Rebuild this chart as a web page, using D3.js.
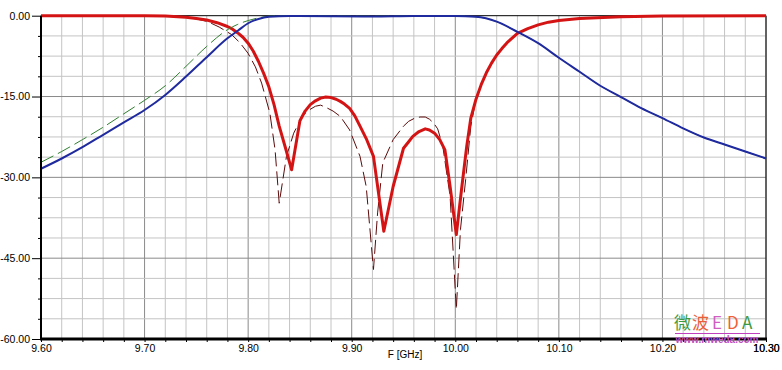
<!DOCTYPE html>
<html>
<head>
<meta charset="utf-8">
<script src="https://cdn.jsdelivr.net/npm/d3@7"></script>
<style>
  body { margin: 0; background: #fff; }
  svg { display: block; font-family: "Liberation Sans", Arial, sans-serif; }
</style>
</head>
<body>
<div class="chart"></div>
<script>
var width = 782
var height = 370

// S21 measured (blue)
var s21Freq = [9.60, 9.62, 9.64, 9.66, 9.68, 9.70, 9.72, 9.74, 9.76, 9.78, 9.79, 9.80, 9.81, 9.82, 9.84, 9.88, 9.92, 9.96, 10.00, 10.02, 10.04, 10.06, 10.08, 10.10, 10.12, 10.14, 10.16, 10.18, 10.20, 10.22, 10.24, 10.26, 10.28, 10.30]
var s21Meas = [-28.4, -26.5, -24.4, -22.1, -19.8, -17.5, -14.7, -11.3, -7.7, -4.2, -2.8, -1.4, -0.6, -0.2, -0.05, -0.1, -0.15, -0.05, -0.05, -0.2, -1.1, -3.0, -5.1, -7.8, -10.4, -13.0, -15.1, -17.2, -19.0, -20.9, -22.6, -23.9, -25.2, -26.5]
// S21 simulated (green dashed)
var s21Sim = [-27.2, -25.2, -23.0, -20.7, -18.2, -15.7, -13.0, -9.4, -5.7, -2.6, -1.6, -0.9, -0.4, -0.1, 0, -0.05, -0.1, -0.05, -0.05, -0.2, -1.1, -3.0, -5.1, -7.8, -10.4, -13.0, -15.1, -17.2, -19.0, -20.9, -22.6, -23.9, -25.2, -26.5]

// S11 measured (red)
var s11MeasFreq = [9.60, 9.70, 9.72, 9.74, 9.75, 9.76, 9.77, 9.78, 9.785, 9.79, 9.795, 9.80, 9.805, 9.81, 9.815, 9.82, 9.825, 9.83, 9.836, 9.842,
    9.85, 9.855, 9.86, 9.865, 9.87, 9.875, 9.88, 9.885, 9.889, 9.893, 9.898, 9.903, 9.908, 9.914, 9.921, 9.931,
    9.940, 9.950, 9.955, 9.959, 9.965, 9.971, 9.975, 9.980, 9.985, 9.990, 9.995, 10.001,
    10.006, 10.011, 10.015, 10.02, 10.025, 10.03, 10.035, 10.04, 10.045, 10.05, 10.06, 10.07, 10.08, 10.09, 10.10, 10.12, 10.16, 10.20, 10.30]
var s11Meas = [0, 0, -0.05, -0.3, -0.5, -0.8, -1.3, -2.0, -2.5, -3.2, -4.0, -5.1, -6.6, -8.5, -10.7, -13.2, -16.5, -20.5, -24.5, -28.6,
    -19.5, -17.7, -16.5, -15.8, -15.3, -15.1, -15.2, -15.5, -15.9, -16.4, -17.2, -18.6, -20.5, -22.8, -26.1, -40.0,
    -31.7, -24.6, -23.4, -22.4, -21.5, -21.0, -21.2, -21.8, -23.0, -24.9, -31.7, -40.6,
    -32.3, -24.3, -19.0, -15.5, -12.8, -10.6, -8.8, -7.3, -6.1, -5.0, -3.3, -2.4, -1.7, -1.2, -0.9, -0.5, -0.2, -0.05, 0]

// S11 simulated (dark red dashed)
var s11SimFreq = [9.60, 9.70, 9.72, 9.74, 9.75, 9.761, 9.772, 9.784, 9.792, 9.80, 9.807, 9.813, 9.821, 9.826, 9.830,
    9.837, 9.844, 9.852, 9.858, 9.865, 9.870, 9.876, 9.882, 9.889, 9.898, 9.908, 9.914, 9.921,
    9.925, 9.930, 9.940, 9.950, 9.955, 9.961, 9.966, 9.971, 9.975, 9.979, 9.983, 9.988, 9.995, 10.001,
    10.005, 10.010, 10.015, 10.02, 10.025, 10.03, 10.035, 10.04, 10.045, 10.05, 10.06, 10.07, 10.08, 10.09, 10.10, 10.12, 10.16, 10.20, 10.30]
var s11Sim = [0, 0, -0.05, -0.3, -0.6, -1.1, -2.1, -3.5, -5.0, -7.0, -9.5, -12.5, -18.1, -24.9, -34.8,
    -26.1, -21.8, -18.7, -17.6, -16.8, -16.6, -17.1, -17.7, -18.7, -21.2, -26.1, -31.7, -47.1,
    -36.6, -27.3, -23.0, -20.5, -19.6, -19.0, -18.8, -18.8, -19.2, -19.9, -21.0, -24.3, -33.5, -54.5,
    -39.7, -30.4, -20.5, -15.5, -12.8, -10.6, -8.8, -7.3, -6.1, -5.0, -3.3, -2.4, -1.7, -1.2, -0.9, -0.5, -0.2, -0.05, 0]

var xTicks = d3.range(0, 36).map(function (i) { return +(9.6 + i * 0.02).toFixed(2) })
var yTicks = d3.range(0, 17).map(function (i) { return -i * 3.75 })

var plotLeft = 41, plotRight = 766, plotTop = 15.7, plotBottom = 339

var x = d3.scaleLinear().domain([9.6, 10.3]).range([plotLeft, plotRight])
var y = d3.scaleLinear().domain([-60, 0]).range([plotBottom, plotTop])

function isMajorX(d) { return Math.round(d * 100) % 10 === 0 }
function isMajorY(d) { return Math.abs(d) % 15 === 0 }

var svg = d3.select('.chart').append('svg')
    .attr('width', width)
    .attr('height', height)

// grid
svg.append('g').selectAll('line')
    .data(xTicks.slice(1))
    .enter().append('line')
    .attr('x1', function (d) { return x(d) }).attr('x2', function (d) { return x(d) })
    .attr('y1', plotTop).attr('y2', plotBottom)
    .attr('stroke', function (d) { return isMajorX(d) ? '#8a8a8a' : '#c4c4c4' })
    .attr('stroke-width', 1)

svg.append('g').selectAll('line')
    .data(yTicks.slice(1, -1))
    .enter().append('line')
    .attr('x1', plotLeft).attr('x2', plotRight)
    .attr('y1', function (d) { return y(d) }).attr('y2', function (d) { return y(d) })
    .attr('stroke', function (d) { return isMajorY(d) ? '#8a8a8a' : '#c4c4c4' })
    .attr('stroke-width', 1)

// frame
svg.append('line').attr('x1', plotLeft).attr('x2', plotRight).attr('y1', plotTop).attr('y2', plotTop)
    .attr('stroke', '#000').attr('stroke-width', 1)
svg.append('line').attr('x1', plotRight).attr('x2', plotRight).attr('y1', plotTop).attr('y2', plotBottom)
    .attr('stroke', '#000').attr('stroke-width', 1)

// axes
var yAxis = d3.axisLeft(y)
    .tickValues(yTicks)
    .tickSize(3)
    .tickSizeOuter(0)
    .tickPadding(8)
    .tickFormat(function (d) { return isMajorY(d) ? d.toFixed(2) : '' })

var gy = svg.append('g').attr('transform', 'translate(' + plotLeft + ',0)').call(yAxis)
gy.select('.domain').remove()
gy.selectAll('.tick line').attr('stroke', '#000')
    .attr('x2', function (d) { return isMajorY(d) ? -9 : -3 })
gy.selectAll('text').attr('font-size', '10.5px').attr('fill', '#000')
    .attr('font-family', '"Liberation Sans", Arial, sans-serif')

var xAxis = d3.axisBottom(x)
    .tickValues(xTicks.concat([10.3]))
    .tickSize(3)
    .tickSizeOuter(0)
    .tickPadding(3)
    .tickFormat(function (d) { return isMajorX(d) ? d.toFixed(2) : '' })

var gx = svg.append('g').attr('transform', 'translate(0,' + plotBottom + ')').call(xAxis)
gx.select('.domain').remove()
gx.selectAll('.tick line').attr('stroke', '#000')
gx.selectAll('text').attr('font-size', '10.5px').attr('fill', '#000')
    .attr('font-family', '"Liberation Sans", Arial, sans-serif')

svg.append('text')
    .attr('x', 405).attr('y', 358)
    .attr('text-anchor', 'middle')
    .attr('font-size', '10px')
    .text('F [GHz]')

// curves
var line = d3.line()
    .x(function (d) { return x(d[0]) })
    .y(function (d) { return y(d[1]) })

function pairs(f, v) { return f.map(function (d, i) { return [d, v[i]] }) }

svg.append('path')
    .datum(pairs(s11SimFreq, s11Sim))
    .attr('d', line.curve(d3.curveLinear))
    .attr('fill', 'none')
    .attr('stroke', '#5c0a0a')
    .attr('stroke-width', 1)
    .attr('stroke-dasharray', '14,5')

svg.append('path')
    .datum(pairs(s11MeasFreq, s11Meas))
    .attr('d', line.curve(d3.curveLinear))
    .attr('fill', 'none')
    .attr('stroke', '#d41414')
    .attr('stroke-width', 3)
    .attr('stroke-linejoin', 'round')

svg.append('path')
    .datum(pairs(s21Freq, s21Sim))
    .attr('d', line.curve(d3.curveMonotoneX))
    .attr('fill', 'none')
    .attr('stroke', '#2f7f2f')
    .attr('stroke-width', 1)
    .attr('stroke-dasharray', '14,5')

svg.append('path')
    .datum(pairs(s21Freq, s21Meas))
    .attr('d', line.curve(d3.curveMonotoneX))
    .attr('fill', 'none')
    .attr('stroke', '#1f2a9e')
    .attr('stroke-width', 2)

// axis lines on top
svg.append('line').attr('x1', plotLeft).attr('x2', plotLeft).attr('y1', plotTop).attr('y2', plotBottom + 1)
    .attr('stroke', '#000').attr('stroke-width', 2)
svg.append('line').attr('x1', plotLeft - 1).attr('x2', plotRight + 1).attr('y1', plotBottom).attr('y2', plotBottom)
    .attr('stroke', '#000').attr('stroke-width', 3)

// watermark
var wm = svg.append('g').attr('font-family', '"Noto Sans CJK SC", sans-serif')
wm.append('text').attr('x', 674).attr('y', 329).attr('font-size', '17px').attr('fill', '#3f9a3f').text('微')
wm.append('text').attr('x', 692).attr('y', 329).attr('font-size', '17px').attr('fill', '#e8603a').text('波')
wm.append('text').attr('x', 712).attr('y', 329).attr('font-size', '17px').attr('fill', '#cf5fc0').text('E')
wm.append('text').attr('x', 727).attr('y', 329).attr('font-size', '17px').attr('fill', '#f0603a').text('D')
wm.append('text').attr('x', 742).attr('y', 329).attr('font-size', '17px').attr('fill', '#3f9a3f').text('A')
svg.append('line').attr('x1', 675).attr('x2', 760).attr('y1', 333.5).attr('y2', 333.5)
    .attr('stroke', '#c040c0').attr('stroke-width', 1)
svg.append('text').attr('x', 717).attr('y', 343).attr('text-anchor', 'middle')
    .attr('font-size', '10px').attr('font-weight', 'bold').attr('fill', '#c050c0')
    .text('www.mweda.com')
</script>
</body>
</html>
